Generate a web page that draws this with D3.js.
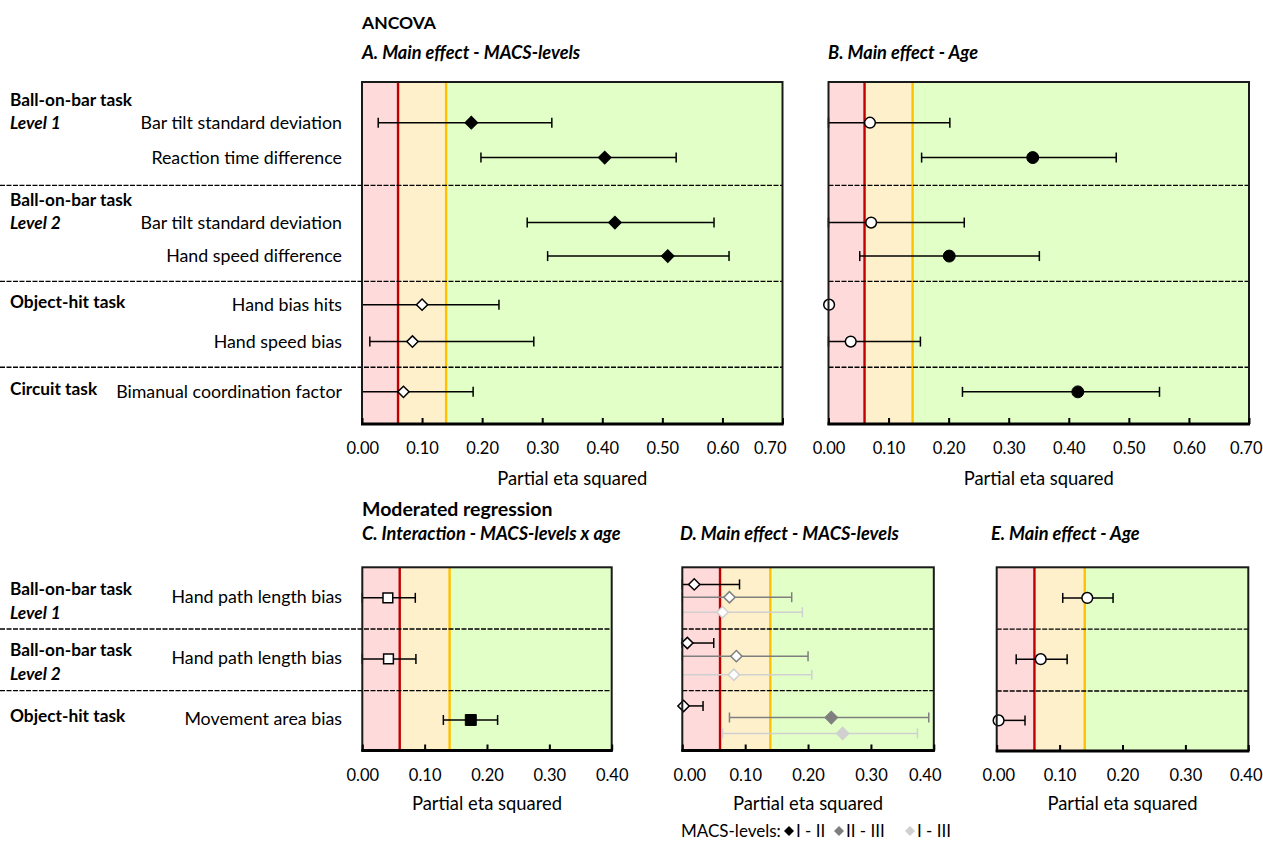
<!DOCTYPE html>
<html><head><meta charset="utf-8">
<script src="https://cdn.jsdelivr.net/npm/d3@7"></script>
<style>
body{margin:0;background:#fff}
text{font-family:Lato,"Open Sans",sans-serif;fill:#000}
</style>
</head><body>
<svg id="chart" width="1263" height="841"></svg>
<script>
// ---------------- DATA ----------------
const ancovaMeasures = ["Bar tilt standard deviation","Reaction time difference","Bar tilt standard deviation","Hand speed difference","Hand bias hits","Hand speed bias","Bimanual coordination factor"];
const ancovaGroups = ["Ball-on-bar task","Ball-on-bar task","Object-hit task","Circuit task"];
const ancovaSubgroups = ["Level 1","Level 2","",""];

const macsEst  = [0.182,0.404,0.421,0.509,0.100,0.084,0.069];
const macsLow  = [0.027,0.198,0.275,0.309,0.000,0.013,0.000];
const macsHigh = [0.316,0.523,0.586,0.611,0.228,0.286,0.185];
const macsSig  = [true,true,true,true,false,false,false];

const ageEst  = [0.069,0.340,0.071,0.201,0.001,0.037,0.415];
const ageLow  = [0.000,0.155,0.000,0.052,0.000,0.000,0.223];
const ageHigh = [0.202,0.479,0.226,0.351,0.003,0.153,0.551];
const ageSig  = [false,true,false,true,false,false,true];

const regMeasures = ["Hand path length bias","Hand path length bias","Movement area bias"];
const regGroups = ["Ball-on-bar task","Ball-on-bar task","Object-hit task"];
const regSubgroups = ["Level 1","Level 2",""];

const interEst  = [0.041,0.042,0.174];
const interLow  = [0.000,0.000,0.130];
const interHigh = [0.085,0.086,0.217];
const interSig  = [false,false,true];

const macsLevels = ["I - II","II - III","I - III"];
const macs12Est  = [0.019,0.008,0.002];
const macs12Low  = [0.000,0.000,0.000];
const macs12High = [0.091,0.050,0.033];
const macs12Sig  = [false,false,false];
const macs23Est  = [0.075,0.086,0.237];
const macs23Low  = [0.000,0.000,0.075];
const macs23High = [0.174,0.200,0.392];
const macs23Sig  = [false,false,true];
const macs13Est  = [0.064,0.082,0.255];
const macs13Low  = [0.000,0.000,0.064];
const macs13High = [0.191,0.206,0.374];
const macs13Sig  = [false,false,true];

const ageRegEst  = [0.144,0.070,0.003];
const ageRegLow  = [0.105,0.031,0.000];
const ageRegHigh = [0.185,0.112,0.045];
const ageRegSig  = [false,false,false];

const topTicks = [0,0.1,0.2,0.3,0.4,0.5,0.6,0.7];
const bottomTicks = [0,0.1,0.2,0.3,0.4];
const effectThresholds = [0.06,0.14];

// ---------------- LAYOUT ----------------
const FS_TICK = 16.5, FS_ROW = 17.8, FS_GROUP = 17.3, FS_TITLE = 18.2, FS_AXIS = 18.4;
const svg = d3.select("#chart");
const zoneColors = ["#ffdada","#fff0cc","#e2ffc8"];
const lineColors = ["#c00000","#ffc000"];
const seriesColors = {black:"#000000", gray:"#7f7f7f", light:"#d0d0d0"};

const topRowSlots = [1.19,2.21,4.11,5.09,6.51,7.59,9.06];
const topSeps = [3.02,5.83,8.34];
const botRowSlots = [1,3,5];
const botSeps = [2.02,4.04];
const dSubSlots = [[0.56,2.48,4.54],[0.98,2.91,4.92],[1.47,3.52,5.44]];

function makeSeries(est, low, high, sig, color, shape, slots){
  return est.map((v,i)=>({v, lo:low[i], hi:high[i], sig:sig[i], color, shape, slot:slots[i]}));
}

function panel(o){
  const g = svg.append("g");
  const x = d3.scaleLinear().domain([0,o.max]).range([o.x0,o.x1]);
  const y = d3.scaleLinear().domain([0,o.units]).range([o.y0,o.y1]);
  const bounds = [0, ...effectThresholds, o.max];
  for(let i=0;i<3;i++){
    g.append("rect").attr("x",x(bounds[i])).attr("y",o.y0)
      .attr("width",x(bounds[i+1])-x(bounds[i])).attr("height",o.y1-o.y0)
      .attr("fill",zoneColors[i]);
  }
  effectThresholds.forEach((t,i)=>{
    g.append("line").attr("x1",x(t)).attr("x2",x(t)).attr("y1",o.y0).attr("y2",o.y1)
      .attr("stroke",lineColors[i]).attr("stroke-width",2.4);
  });
  o.seps.forEach(s=>{
    g.append("line").attr("x1",o.sepStart).attr("x2",o.x1).attr("y1",y(s)).attr("y2",y(s))
      .attr("stroke","#000").attr("stroke-width",1.3).attr("stroke-dasharray","5,1.5");
  });
  o.series.forEach(ser=>{
    ser.forEach(d=>{
      const yy = y(d.slot);
      g.append("line").attr("x1",x(d.lo)).attr("x2",x(d.hi)).attr("y1",yy).attr("y2",yy)
        .attr("stroke",d.color).attr("stroke-width",1.5);
      [d.lo,d.hi].forEach(e=>{
        g.append("line").attr("x1",x(e)).attr("x2",x(e)).attr("y1",yy-5).attr("y2",yy+5)
          .attr("stroke",d.color).attr("stroke-width",1.5);
      });
    });
  });
  o.series.forEach(ser=>{
    ser.forEach(d=>{
      const yy = y(d.slot);
      let path, rot=0;
      if(d.shape==="diamond"){ path=d3.symbol(d3.symbolSquare, d.sig?82:64)(); rot=45; }
      else if(d.shape==="circle"){ path=d3.symbol(d3.symbolCircle, d.sig?112:90)(); }
      else { path=d3.symbol(d3.symbolSquare, d.sig?120:95)(); }
      g.append("path").attr("d",path)
        .attr("transform",`translate(${x(d.v)},${yy}) rotate(${rot})`)
        .attr("fill",d.sig?d.color:"#fff")
        .attr("stroke",d.color).attr("stroke-width",d.sig?1:1.5);
    });
  });
  g.append("rect").attr("x",o.x0).attr("y",o.y0).attr("width",o.x1-o.x0).attr("height",o.y1-o.y0)
    .attr("fill","none").attr("stroke","#1a1a1a").attr("stroke-width",2);
  const ax = g.append("g").attr("transform",`translate(0,${o.y1})`)
    .call(d3.axisBottom(x).tickValues(o.ticks).tickSize(-6).tickPadding(30-0.71*FS_TICK).tickFormat(d3.format(".2f")));
  ax.select(".domain").remove();
  ax.selectAll(".tick line").attr("stroke","#000").attr("stroke-width",2);
  ax.selectAll(".tick text").attr("font-size",FS_TICK).attr("font-family","Lato").attr("fill","#000")
    .each(function(d){
      const w = this.getComputedTextLength();
      const cx = x(d);
      let dx = 0;
      if(cx - w/2 < o.labelBounds[0]) dx = o.labelBounds[0] - (cx - w/2);
      if(cx + w/2 > o.labelBounds[1]) dx = o.labelBounds[1] - (cx + w/2);
      d3.select(this).attr("x", dx);
    });
  g.append("line").attr("x1",o.x0-1).attr("x2",o.x1+1).attr("y1",o.y1).attr("y2",o.y1)
    .attr("stroke","#000").attr("stroke-width",3);
  g.append("text").attr("x",(o.x0+o.x1)/2).attr("y",o.y1+o.titleDy).attr("text-anchor","middle")
    .attr("font-size",FS_AXIS).text("Partial eta squared");
  g.append("text").attr("x",o.titleX).attr("y",o.titleY).attr("font-size",FS_TITLE)
    .attr("font-weight","bold").attr("font-style","italic").text(o.title);
  return {x,y};
}

// ---------------- TOP PANELS ----------------
const A = panel({x0:362,x1:782.5,y0:82,y1:424,max:0.7,units:10,ticks:topTicks,seps:topSeps,sepStart:0,
  series:[makeSeries(macsEst,macsLow,macsHigh,macsSig,seriesColors.black,"diamond",topRowSlots)],
  title:"A. Main effect - MACS-levels",titleX:362,titleY:59,titleDy:61,labelBounds:[346,786]});
panel({x0:828.5,x1:1249,y0:82,y1:424,max:0.7,units:10,ticks:topTicks,seps:topSeps,sepStart:828.5,
  series:[makeSeries(ageEst,ageLow,ageHigh,ageSig,seriesColors.black,"circle",topRowSlots)],
  title:"B. Main effect - Age",titleX:828,titleY:59,titleDy:61,labelBounds:[811,1262]});

// ---------------- BOTTOM PANELS ----------------
const C = panel({x0:362.3,x1:611.7,y0:567.3,y1:750.5,max:0.4,units:6,ticks:bottomTicks,seps:botSeps,sepStart:0,
  series:[makeSeries(interEst,interLow,interHigh,interSig,seriesColors.black,"square",botRowSlots)],
  title:"C. Interaction - MACS-levels x age",titleX:362,titleY:540,titleDy:59,labelBounds:[345,630]});
panel({x0:682.3,x1:933.8,y0:567.3,y1:750.5,max:0.4,units:6,ticks:bottomTicks,seps:botSeps,sepStart:682.3,
  series:[makeSeries(macs13Est,macs13Low,macs13High,macs13Sig,seriesColors.light,"diamond",dSubSlots[2]),
          makeSeries(macs23Est,macs23Low,macs23High,macs23Sig,seriesColors.gray,"diamond",dSubSlots[1]),
          makeSeries(macs12Est,macs12Low,macs12High,macs12Sig,seriesColors.black,"diamond",dSubSlots[0])],
  title:"D. Main effect - MACS-levels",titleX:680,titleY:540,titleDy:59,labelBounds:[673,941]});
panel({x0:996.7,x1:1248.3,y0:567.3,y1:751,max:0.4,units:6,ticks:bottomTicks,seps:botSeps,sepStart:996.7,
  series:[makeSeries(ageRegEst,ageRegLow,ageRegHigh,ageRegSig,seriesColors.black,"circle",botRowSlots)],
  title:"E. Main effect - Age",titleX:991,titleY:540,titleDy:59,labelBounds:[982,1262]});

// ---------------- HEADINGS ----------------
svg.append("text").attr("x",362).attr("y",29).attr("font-size",17.5).attr("font-weight","bold").text("ANCOVA");
svg.append("text").attr("x",362).attr("y",516).attr("font-size",19.5).attr("font-weight","bold").text("Moderated regression");

// ---------------- ROW LABELS ----------------
ancovaMeasures.forEach((m,i)=>{
  svg.append("text").attr("x",342).attr("y",A.y(topRowSlots[i])+6).attr("text-anchor","end")
    .attr("font-size",FS_ROW).text(m);
});
const topGroupSlots = [0,2,4,6];
ancovaGroups.forEach((gname,i)=>{
  const ry = A.y(topRowSlots[topGroupSlots[i]]);
  const hasSub = ancovaSubgroups[i] !== "";
  svg.append("text").attr("x",10).attr("y",hasSub?ry-17:ry+3).attr("font-size",FS_GROUP).attr("font-weight","bold").text(gname);
  if(hasSub) svg.append("text").attr("x",10).attr("y",ry+6).attr("font-size",FS_GROUP)
    .attr("font-weight","bold").attr("font-style","italic").text(ancovaSubgroups[i]);
});
regMeasures.forEach((m,i)=>{
  svg.append("text").attr("x",342).attr("y",C.y(botRowSlots[i])+5).attr("text-anchor","end")
    .attr("font-size",FS_ROW).text(m);
});
regGroups.forEach((gname,i)=>{
  const ry = C.y(botRowSlots[i]);
  const hasSub = regSubgroups[i] !== "";
  svg.append("text").attr("x",10).attr("y",hasSub?ry-3:ry+2).attr("font-size",FS_GROUP).attr("font-weight","bold").text(gname);
  if(hasSub) svg.append("text").attr("x",10).attr("y",ry+21).attr("font-size",FS_GROUP)
    .attr("font-weight","bold").attr("font-style","italic").text(regSubgroups[i]);
});

// ---------------- LEGEND ----------------
const lg = svg.append("g").attr("transform","translate(681,837)");
lg.append("text").attr("x",0).attr("y",0).attr("font-size",17).text("MACS-levels:");
const legendColors = [seriesColors.black, seriesColors.gray, seriesColors.light];
const legendX = [108,158,229];
macsLevels.forEach((lv,i)=>{
  lg.append("path").attr("d",d3.symbol(d3.symbolSquare,50)())
    .attr("transform",`translate(${legendX[i]},-6) rotate(45)`).attr("fill",legendColors[i]);
  lg.append("text").attr("x",legendX[i]+7).attr("y",0).attr("font-size",17).text(lv);
});
</script>
</body></html>
